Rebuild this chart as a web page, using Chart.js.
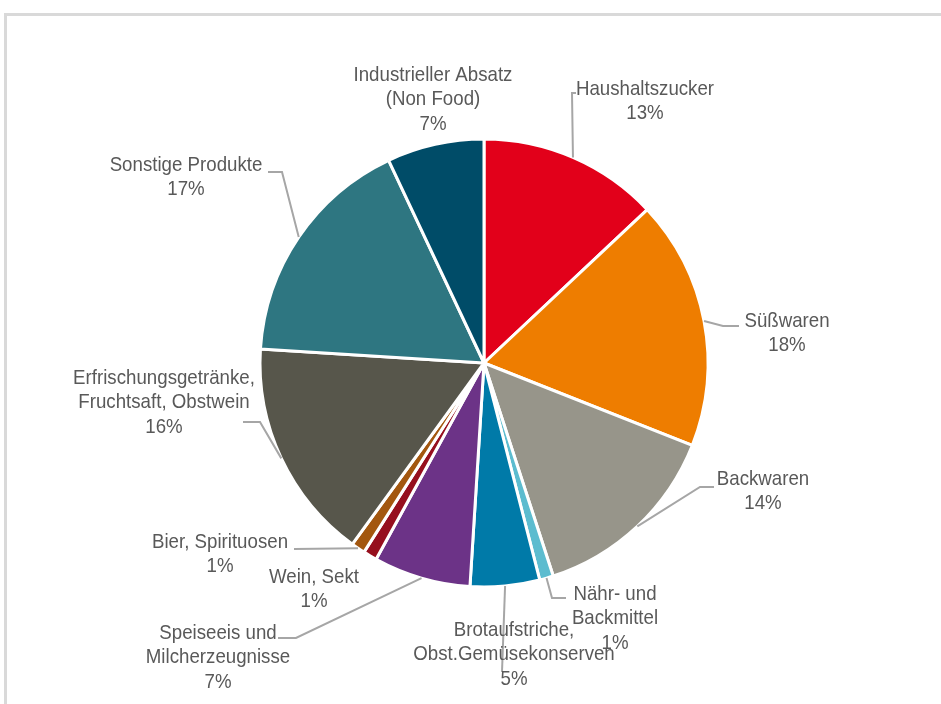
<!DOCTYPE html>
<html>
<head>
<meta charset="utf-8">
<script src="https://cdn.jsdelivr.net/npm/chart.js@4.4.1/dist/chart.umd.min.js"></script>
<style>
  body { margin: 0; background: #fff; }
  #wrap { position: relative; width: 941px; height: 704px; overflow: hidden; }
  #frame {
    position: absolute; left: 4px; top: 13px; right: -10px; bottom: -10px;
    border-top: 3px solid #d9d9d9; border-left: 3px solid #d9d9d9;
  }
  canvas { position: absolute; left: 0; top: 0; }
</style>
</head>
<body>
<div id="wrap">
  <div id="frame"></div>
  <canvas id="chart" width="941" height="704"></canvas>
</div>
<script>
// data (shares in percent, clockwise from 12 o'clock)
const categories = [
  'Haushaltszucker', 'Süßwaren', 'Backwaren', 'Nähr- und Backmittel',
  'Brotaufstriche, Obst.Gemüsekonserven', 'Speiseeis und Milcherzeugnisse',
  'Wein, Sekt', 'Bier, Spirituosen', 'Erfrischungsgetränke, Fruchtsaft, Obstwein',
  'Sonstige Produkte', 'Industrieller Absatz (Non Food)'
];
const shares = [13, 18, 14, 1, 5, 7, 1, 1, 16, 17, 7];

// label text as it is wrapped in the chart
const labelLines = [
  ['Haushaltszucker'],
  ['Süßwaren'],
  ['Backwaren'],
  ['Nähr- und', 'Backmittel'],
  ['Brotaufstriche,', 'Obst.Gemüsekonserven'],
  ['Speiseeis und', 'Milcherzeugnisse'],
  ['Wein, Sekt'],
  ['Bier, Spirituosen'],
  ['Erfrischungsgetränke,', 'Fruchtsaft, Obstwein'],
  ['Sonstige Produkte'],
  ['Industrieller Absatz', '(Non Food)']
];

const sliceColors = [
  '#e2001a', '#ee7d00', '#97958a', '#5cbccf', '#007aa8', '#6c3387',
  '#960f1e', '#a3570f', '#57564b', '#2e7681', '#004c68'
];

// where each label sits, and the elbow of its leader line (ends at slice middle)
const labelPos = [
  { x: 645, y: 89,  leader: [[576, 93], [572, 93]] },
  { x: 787, y: 321, leader: [[739, 326], [723, 326]] },
  { x: 763, y: 479, leader: [[714, 487], [700, 487]] },
  { x: 615, y: 594, leader: [[566, 598], [552, 598]] },
  { x: 514, y: 630, leader: [[502, 672]] },
  { x: 218, y: 633, leader: [[278, 638], [296, 638]] },
  { x: 314, y: 577, leader: null },
  { x: 220, y: 542, leader: [[294, 549]] },
  { x: 164, y: 378, leader: [[243, 422], [260, 422]] },
  { x: 186, y: 165, leader: [[268, 172], [282, 172]] },
  { x: 433, y: 75,  leader: null }
];

const LINE_H = 24.5;
// no narrow font installed: squeeze a regular sans sideways instead
const labelFont = '21px "Liberation Sans", Arial, sans-serif';
const SQUEEZE = 0.89;

const sliceLabels = {
  id: 'sliceLabels',
  afterDatasetsDraw(chart) {
    const ctx = chart.ctx;
    const meta = chart.getDatasetMeta(0);
    ctx.save();
    meta.data.forEach((arc, i) => {
      const pos = labelPos[i];
      const mid = (arc.startAngle + arc.endAngle) / 2;
      const ex = arc.x + Math.cos(mid) * arc.outerRadius;
      const ey = arc.y + Math.sin(mid) * arc.outerRadius;
      if (pos.leader) {
        ctx.beginPath();
        ctx.moveTo(pos.leader[0][0], pos.leader[0][1]);
        pos.leader.slice(1).forEach(p => ctx.lineTo(p[0], p[1]));
        ctx.lineTo(ex, ey);
        ctx.strokeStyle = '#a6a6a6';
        ctx.lineWidth = 2;
        ctx.stroke();
      }
      const lines = labelLines[i].concat(shares[i] + '%');
      ctx.fillStyle = '#595959';
      ctx.font = labelFont;
      ctx.textAlign = 'center';
      ctx.textBaseline = 'middle';
      lines.forEach((t, j) => {
        ctx.save();
        ctx.translate(pos.x, pos.y + j * LINE_H);
        ctx.scale(SQUEEZE, 1);
        ctx.fillText(t, 0, 0);
        ctx.restore();
      });
    });
    ctx.restore();
  }
};

new Chart(document.getElementById('chart'), {
  type: 'pie',
  data: {
    labels: categories,
    datasets: [{
      data: shares,
      backgroundColor: sliceColors,
      borderColor: '#ffffff',
      borderWidth: 3,
      radius: 224
    }]
  },
  options: {
    responsive: false,
    animation: false,
    layout: { padding: { left: 47, right: 20, top: 42, bottom: 20 } },
    plugins: {
      legend: { display: false },
      tooltip: { enabled: false }
    }
  },
  plugins: [sliceLabels]
});
</script>
</body>
</html>
